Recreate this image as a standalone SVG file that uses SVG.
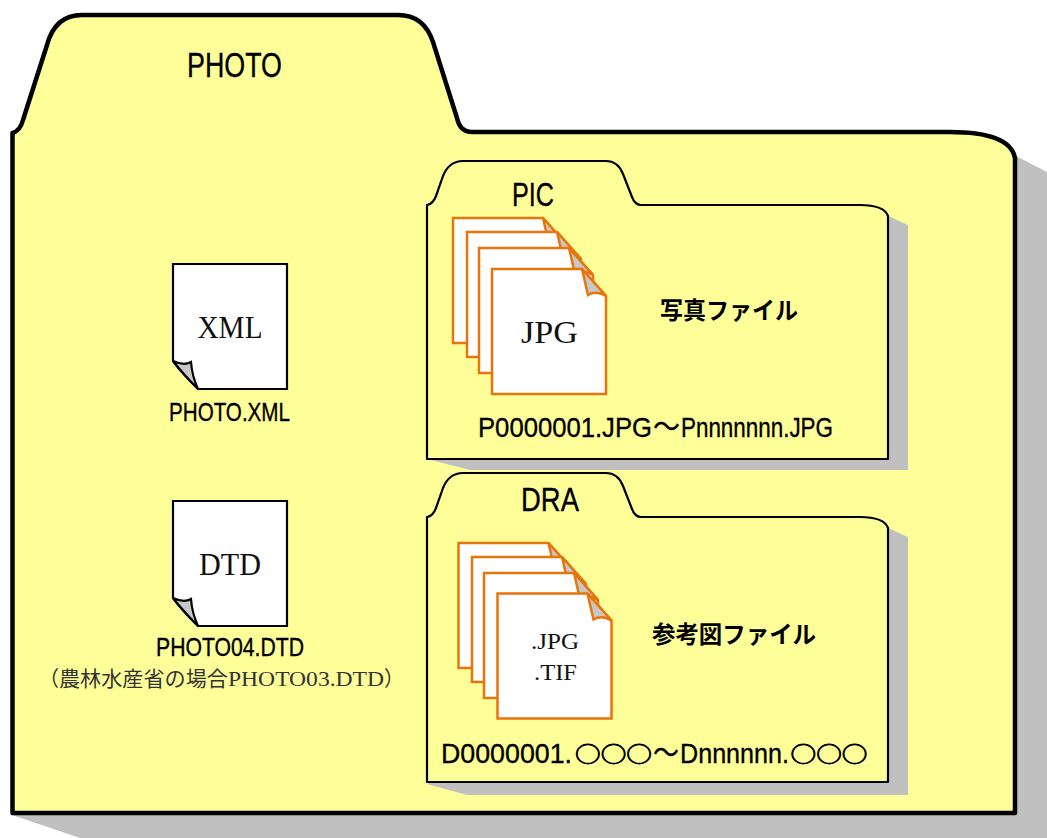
<svg xmlns="http://www.w3.org/2000/svg" xmlns:xlink="http://www.w3.org/1999/xlink" width="1047" height="838" viewBox="0 0 1047 838">
<style>
.shadow{fill:#c0c0c0;stroke:none}
.folder{fill:#ffff99;stroke:#000;stroke-linejoin:round}
.doc{fill:#fff;stroke:#000;stroke-width:2.2}
.page{fill:#fff;stroke:#e8740c;stroke-width:2.5}
.curl{fill:#c8c8c8}
.sans{font-family:"Liberation Sans",Arial,sans-serif;fill:#000;stroke:#000;stroke-width:.35}
.serif{font-family:"Liberation Serif","Times New Roman",serif;fill:#111}
.jp{font-family:"Noto Sans CJK JP","Liberation Sans",sans-serif;font-weight:700;fill:#000}
.sym{font-family:"Noto Sans CJK JP",sans-serif;font-weight:400;stroke-width:.3}
.circ{font-family:"Noto Sans CJK JP",sans-serif;font-weight:400;stroke-width:.8;font-size:22px}
.note{font-family:"Liberation Serif","Noto Sans CJK JP",serif;fill:#333;font-size:21px}
</style>
<defs>
<g id="docShape">
<path class="doc" d="M0,0H114V125H25Q6,106 0,97Z"/>
<path class="doc curl" d="M0,97Q11,102 18,98Q19,112 25,125Q10,110 0,97Z"/>
</g>
<g id="pageShape">
<path class="page" d="M0,0H90L114,27V125H0Z"/>
<path class="page curl" d="M90,0L114,27Q104,21 96,26Q93,13 90,0Z"/>
</g>
</defs>

<g id="photo-folder">
<path class="shadow" d="M1016,156L1047,172V838H80L12,815Z"/>
<path class="folder" stroke-width="4.5" d="M12.5,133Q20,131 23,120L47,45Q55,15 82,15H398Q424,15 433,42L457,118Q460,132 472,132H950Q1010,132 1015,158V813H12.500Z"/>
<text class="sans" x="187" y="77" font-size="35" textLength="95" lengthAdjust="spacingAndGlyphs">PHOTO</text>
</g>

<g id="pic-folder">
<path class="shadow" d="M888,216L908,225V470H470L427,459Z"/>
<path class="folder" stroke-width="2.2" d="M427,205Q433,204 436,196L443,176Q449,161 463,161H606Q618,161 623,174L632,197Q635,205 641,205H860Q884,205 888,216V459H427Z"/>
<text class="sans" x="512" y="206" font-size="33" textLength="42" lengthAdjust="spacingAndGlyphs">PIC</text>
</g>

<g id="jpg-pages">
<use xlink:href="#pageShape" x="453" y="218"/>
<use xlink:href="#pageShape" x="467" y="232"/>
<use xlink:href="#pageShape" x="479" y="248"/>
<use xlink:href="#pageShape" x="492" y="269"/>
<text class="serif" x="549.500" y="343" font-size="31" text-anchor="middle" textLength="57" lengthAdjust="spacingAndGlyphs">JPG</text>
</g>
<text class="jp" x="660" y="319" font-size="24" textLength="138" lengthAdjust="spacingAndGlyphs">写真ファイル</text>
<text class="sans" y="437" font-size="28"><tspan x="478" textLength="174" lengthAdjust="spacingAndGlyphs">P0000001.JPG</tspan><tspan class="sym" x="653" textLength="27" lengthAdjust="spacingAndGlyphs">～</tspan><tspan x="681" textLength="152" lengthAdjust="spacingAndGlyphs">Pnnnnnnn.JPG</tspan></text>

<g id="dra-folder">
<path class="shadow" d="M888,528L908,537V795H467L427,784Z"/>
<path class="folder" stroke-width="2.2" d="M427,517Q433,516 436,508L443,488Q449,473 463,473H606Q618,473 623,486L632,509Q635,517 641,517H860Q884,517 888,528V782H427Z"/>
<text class="sans" x="521" y="511" font-size="33" textLength="58" lengthAdjust="spacingAndGlyphs">DRA</text>
</g>

<g id="dra-pages">
<use xlink:href="#pageShape" x="458.500" y="543"/>
<use xlink:href="#pageShape" x="472" y="557"/>
<use xlink:href="#pageShape" x="484" y="573"/>
<use xlink:href="#pageShape" x="497.500" y="593.500"/>
<text class="serif" x="555" y="649" font-size="24" text-anchor="middle" textLength="48" lengthAdjust="spacingAndGlyphs">.JPG</text>
<text class="serif" x="555.500" y="680" font-size="24" text-anchor="middle" textLength="43" lengthAdjust="spacingAndGlyphs">.TIF</text>
</g>
<text class="jp" x="652" y="643" font-size="24" textLength="164" lengthAdjust="spacingAndGlyphs">参考図ファイル</text>
<text class="sans" font-size="28"><tspan x="441" y="763" textLength="131" lengthAdjust="spacingAndGlyphs">D0000001.</tspan><tspan class="circ" x="575" y="762" textLength="77" lengthAdjust="spacingAndGlyphs">○○○</tspan><tspan class="sym" x="653" y="763" textLength="26" lengthAdjust="spacingAndGlyphs">～</tspan><tspan x="680" y="763" textLength="109" lengthAdjust="spacingAndGlyphs">Dnnnnnn.</tspan><tspan class="circ" x="790.500" y="762" textLength="77" lengthAdjust="spacingAndGlyphs">○○○</tspan></text>

<g id="xml-doc">
<use xlink:href="#docShape" x="173" y="264"/>
<text class="serif" x="230" y="338" font-size="31" text-anchor="middle" textLength="65" lengthAdjust="spacingAndGlyphs">XML</text>
<text class="sans" x="169" y="421" font-size="25" textLength="121" lengthAdjust="spacingAndGlyphs">PHOTO.XML</text>
</g>

<g id="dtd-doc">
<use xlink:href="#docShape" x="173" y="501"/>
<text class="serif" x="230" y="575" font-size="31" text-anchor="middle" textLength="62" lengthAdjust="spacingAndGlyphs">DTD</text>
<text class="sans" x="156" y="656" font-size="25" textLength="148" lengthAdjust="spacingAndGlyphs">PHOTO04.DTD</text>
<text class="note" y="686"><tspan x="39" textLength="20" lengthAdjust="spacingAndGlyphs">（</tspan><tspan x="59" textLength="169" lengthAdjust="spacingAndGlyphs">農林水産省の場合</tspan><tspan x="228" textLength="156" lengthAdjust="spacingAndGlyphs">PHOTO03.DTD</tspan><tspan x="384" textLength="20" lengthAdjust="spacingAndGlyphs">）</tspan></text>
</g>
</svg>
